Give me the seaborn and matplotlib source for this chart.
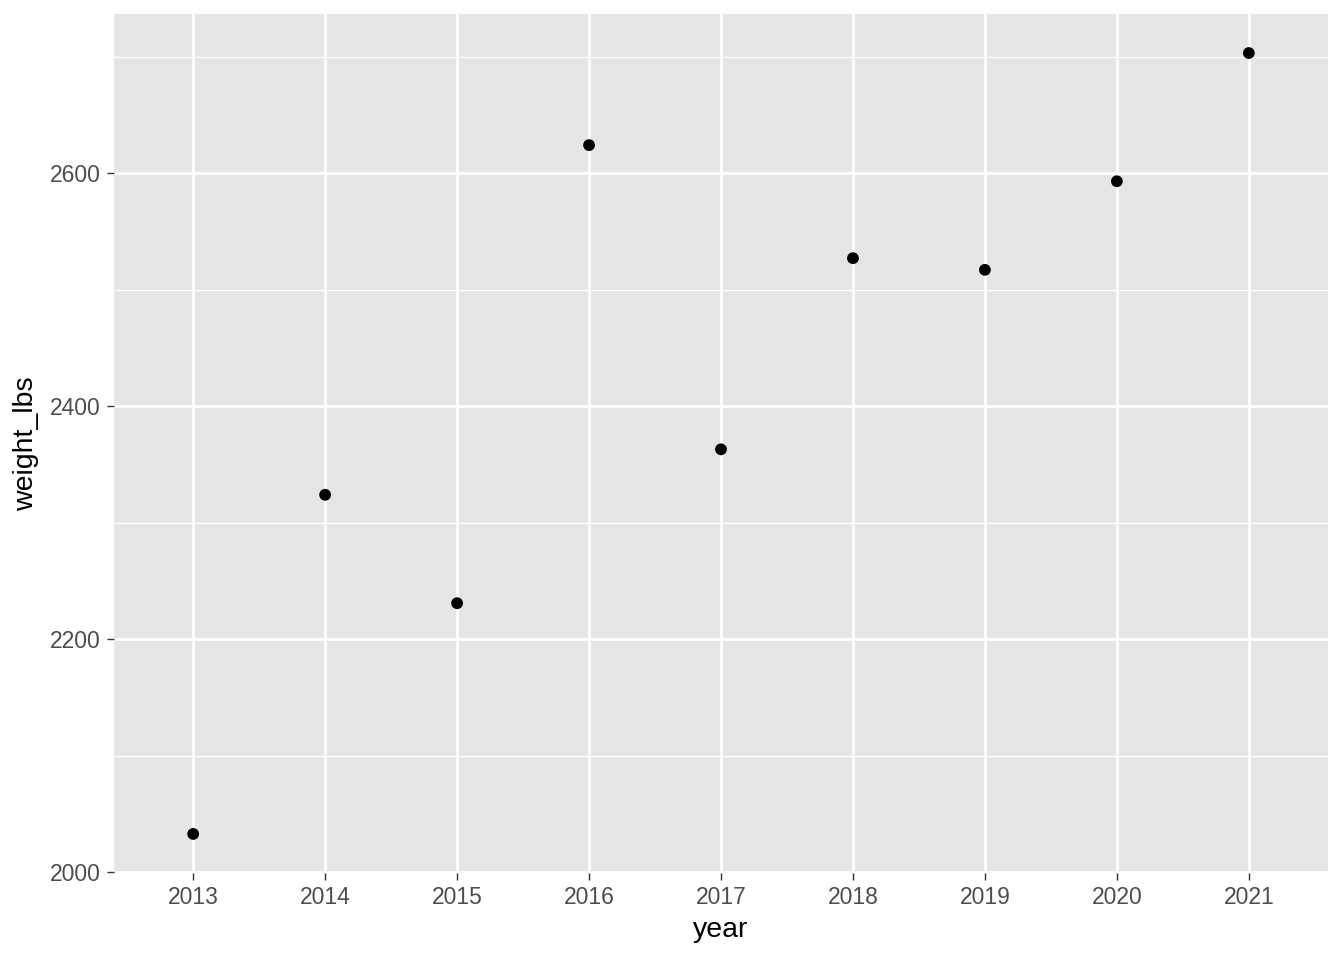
import matplotlib
matplotlib.use("Agg")
import matplotlib.pyplot as plt
import seaborn as sns
import pandas as pd
import numpy as np

years = [2013, 2014, 2015, 2016, 2017, 2018, 2019, 2020, 2021]
weight_lbs = [2033, 2324, 2231, 2624, 2363, 2527, 2517, 2593, 2703]

df = pd.DataFrame({"year": years, "weight_lbs": weight_lbs})

sns.set_theme(style="darkgrid")
plt.rcParams['font.family'] = ['Liberation Sans', 'DejaVu Sans']

fig = plt.figure(figsize=(13.44, 9.6), dpi=100)
ax = fig.add_axes([114/1344, 1 - 873/960, (1328 - 114)/1344, (873 - 14)/960])
ax.set_facecolor("#E5E5E5")

sns.scatterplot(data=df, x="year", y="weight_lbs", ax=ax, color="black",
                s=72, edgecolor="none", zorder=3)

ax.set_xlim(min(years) - 0.6, max(years) + 0.6)
yr = max(weight_lbs) - min(weight_lbs)
ax.set_ylim(min(weight_lbs) - 0.05 * yr, max(weight_lbs) + 0.05 * yr)

ax.set_xticks(years)
ax.set_xticklabels([str(y) for y in years])
ax.set_yticks([2000, 2200, 2400, 2600])
ax.set_yticks([2100, 2300, 2500, 2700], minor=True)

ax.grid(which="major", color="white", linewidth=1.9)
ax.grid(which="minor", axis="y", color="white", linewidth=0.95)
ax.grid(which="minor", axis="x", visible=False)
ax.set_axisbelow(True)
for s in ax.spines.values():
    s.set_visible(False)

ax.tick_params(axis="both", which="major", length=5.3, width=1.0, color="#333333",
               labelsize=16.5, labelcolor="#4D4D4D", pad=4, bottom=True, left=True)
ax.tick_params(axis="both", which="minor", length=0)

ax.set_xlabel("year", fontsize=20.5, color="black", labelpad=6)
ax.set_ylabel("weight_lbs", fontsize=20.5, color="black", labelpad=8)

fig.savefig("out.png", dpi=100)
